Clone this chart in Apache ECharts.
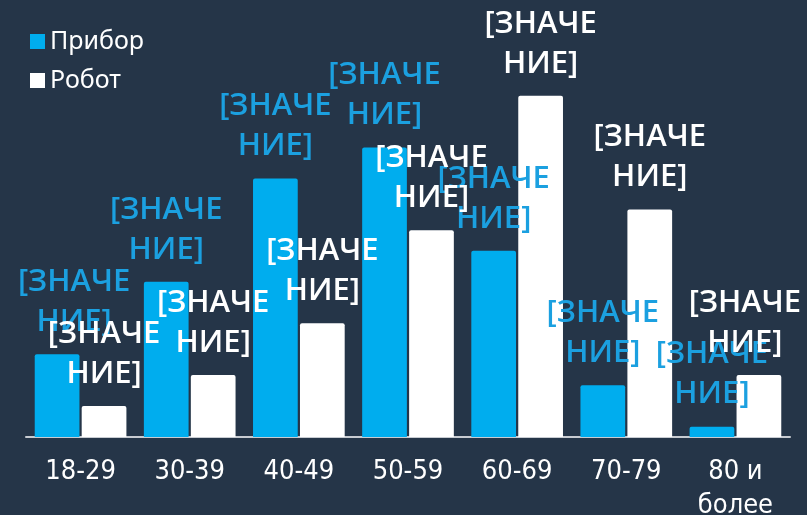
<!DOCTYPE html>
<html><head><meta charset="utf-8">
<script src="https://cdn.jsdelivr.net/npm/echarts@6/dist/echarts.min.js"></script>
<style>html,body{margin:0;padding:0;background:#253548;}#c{width:807px;height:515px;}</style>
</head><body><div id="c"></div>
<script>
const categories = ['18-29','30-39','40-49','50-59','60-69','70-79','80 и\nболее'];
const pribor = [8, 15, 25, 28, 18, 5, 1];
const robot = [3, 6, 11, 20, 33, 22, 6];
const seriesNames = ['Прибор','Робот'];
const labelText = '[ЗНАЧЕ\nНИЕ]';

const chart = echarts.init(document.getElementById('c'));
const labelBase = {
  show: true, position: 'top', distance: 12,
  formatter: () => labelText,
  fontFamily: "'Open Sans', sans-serif", fontWeight: 600, fontSize: 31, lineHeight: 40
};
// horizontal nudges that keep edge labels inside the canvas
const priborShift = [17, 0, 0, 0, 0, 0, 0];
const robotShift = [0, 0, 0, 0, 0, 0, -14];
function withShift(vals, shifts) {
  return vals.map((v, i) => shifts[i] ? {value: v, label: {offset: [shifts[i], 0]}} : v);
}
chart.setOption({
  backgroundColor: '#253548',
  animation: false,
  legend: {
    orient: 'vertical', left: 25, top: 24, itemGap: 14,
    itemWidth: 15, itemHeight: 15, icon: 'rect', itemTextGap: 8,
    textStyle: {color: '#ffffff', fontSize: 25, fontFamily: "'Noto Sans', sans-serif"}
  },
  grid: {left: 26, right: 17, top: 75, bottom: 78, outerBoundsMode: 'none', containLabel: false},
  xAxis: {
    type: 'category', data: categories,
    axisLine: {lineStyle: {color: '#c8ccd2', width: 2}},
    axisTick: {show: false},
    axisLabel: {color: '#ffffff', fontSize: 27, fontFamily: "'DejaVu Sans Condensed', 'Roboto', sans-serif", margin: 18, lineHeight: 34}
  },
  yAxis: {type: 'value', min: 0, max: 35, show: false, splitLine: {show: false}},
  series: [
    {
      name: seriesNames[0], type: 'bar', data: withShift(pribor, priborShift),
      barGap: '5%', barCategoryGap: '16%',
      itemStyle: {color: '#00adee', borderRadius: [2,2,0,0]},
      label: Object.assign({}, labelBase, {color: '#1ba0e0'})
    },
    {
      name: seriesNames[1], type: 'bar', data: withShift(robot, robotShift),
      itemStyle: {color: '#ffffff', borderRadius: [2,2,0,0]},
      label: Object.assign({}, labelBase, {color: '#ffffff'})
    }
  ]
});
</script></body></html>
